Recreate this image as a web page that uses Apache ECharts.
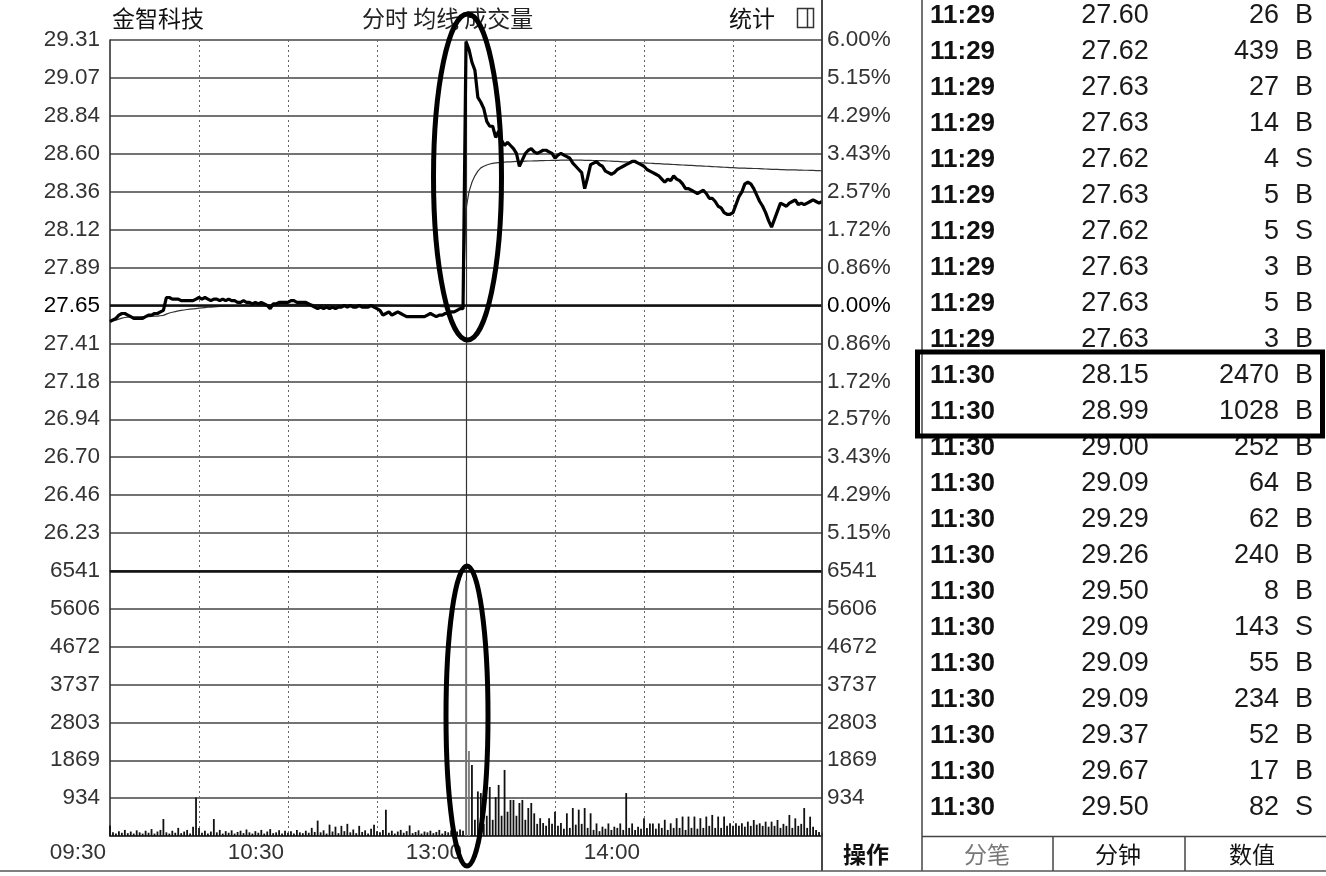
<!DOCTYPE html>
<html>
<head>
<meta charset="utf-8">
<script src="https://cdn.jsdelivr.net/npm/echarts@6/dist/echarts.min.js"></script>
<style>
html,body{margin:0;padding:0;background:#fff;}
#chart{width:1326px;height:876px;}
</style>
</head>
<body>
<div id="chart"></div>
<script>
// ---------------- DATA ----------------
const stockName = '金智科技';
const headerTabs = '分时 均线 成交量';
const statLabel = '统计';
const prevClose = 27.65;

const priceTicks = ['29.31','29.07','28.84','28.60','28.36','28.12','27.89','27.65','27.41','27.18','26.94','26.70','26.46','26.23'];
const pctTicks = ['6.00%','5.15%','4.29%','3.43%','2.57%','1.72%','0.86%','0.00%','0.86%','1.72%','2.57%','3.43%','4.29%','5.15%'];
const volTicks = ['6541','5606','4672','3737','2803','1869','934'];
const volMax = 6541;
const xTickIdx = [0, 60, 120, 180];
const xTickLabels = ['09:30','10:30','13:00','14:00'];

const priceData = [
27.55,27.56,27.57,27.59,27.60,27.60,27.59,27.58,27.57,27.57,
27.57,27.57,27.58,27.59,27.59,27.60,27.60,27.61,27.62,27.70,
27.70,27.69,27.69,27.69,27.68,27.68,27.68,27.68,27.68,27.69,
27.70,27.69,27.70,27.69,27.68,27.69,27.69,27.68,27.69,27.68,
27.69,27.68,27.68,27.67,27.67,27.68,27.67,27.67,27.66,27.67,
27.66,27.67,27.66,27.65,27.63,27.66,27.66,27.67,27.67,27.67,
27.67,27.68,27.68,27.67,27.67,27.67,27.67,27.66,27.65,27.64,
27.63,27.64,27.63,27.64,27.63,27.64,27.63,27.64,27.64,27.65,
27.64,27.65,27.64,27.64,27.65,27.64,27.64,27.64,27.65,27.64,
27.63,27.62,27.59,27.60,27.61,27.59,27.60,27.61,27.60,27.59,
27.58,27.58,27.58,27.58,27.58,27.58,27.58,27.59,27.60,27.59,
27.58,27.59,27.59,27.60,27.60,27.61,27.61,27.62,27.63,27.63,
29.30,29.25,29.17,29.12,28.95,28.92,28.88,28.80,28.77,28.77,
28.70,28.74,28.68,28.65,28.67,28.65,28.63,28.60,28.52,28.56,
28.60,28.62,28.63,28.61,28.60,28.61,28.62,28.62,28.61,28.60,
28.57,28.59,28.60,28.59,28.58,28.57,28.54,28.52,28.50,28.48,
28.38,28.45,28.53,28.54,28.55,28.53,28.52,28.49,28.48,28.47,
28.48,28.50,28.51,28.52,28.53,28.54,28.55,28.55,28.54,28.53,
28.52,28.50,28.49,28.48,28.47,28.46,28.44,28.42,28.44,28.43,
28.46,28.44,28.43,28.41,28.38,28.38,28.37,28.36,28.35,28.36,
28.37,28.35,28.32,28.32,28.30,28.27,28.26,28.23,28.22,28.22,
28.23,28.28,28.33,28.36,28.41,28.42,28.41,28.38,28.34,28.30,
28.27,28.23,28.18,28.14,28.19,28.24,28.29,28.28,28.27,28.29,
28.30,28.31,28.28,28.29,28.28,28.29,28.30,28.31,28.30,28.29,28.30
];

const avgData = [
27.550,27.554,27.559,27.565,27.571,27.575,27.577,27.578,27.579,27.579,
27.579,27.580,27.580,27.581,27.582,27.583,27.584,27.586,27.588,27.596,
27.603,27.608,27.612,27.616,27.619,27.622,27.625,27.627,27.629,27.631,
27.633,27.635,27.637,27.639,27.640,27.642,27.643,27.644,27.645,27.646,
27.647,27.648,27.649,27.650,27.651,27.652,27.652,27.653,27.653,27.654,
27.654,27.655,27.655,27.655,27.655,27.655,27.656,27.656,27.656,27.656,
27.657,27.657,27.657,27.657,27.657,27.657,27.657,27.657,27.657,27.656,
27.656,27.656,27.655,27.655,27.655,27.654,27.654,27.654,27.654,27.654,
27.654,27.654,27.654,27.654,27.654,27.654,27.654,27.654,27.654,27.653,
27.653,27.652,27.652,27.651,27.651,27.650,27.650,27.650,27.649,27.649,
27.648,27.648,27.647,27.647,27.646,27.646,27.645,27.645,27.645,27.644,
27.644,27.644,27.643,27.643,27.643,27.643,27.643,27.643,27.643,27.643,
28.250,28.360,28.420,28.460,28.490,28.510,28.520,28.528,28.534,28.538,
28.541,28.543,28.545,28.546,28.547,28.548,28.549,28.550,28.550,28.551,
28.552,28.553,28.553,28.554,28.554,28.555,28.555,28.556,28.556,28.557,
28.557,28.557,28.558,28.558,28.558,28.558,28.558,28.558,28.558,28.558,
28.557,28.557,28.557,28.556,28.556,28.555,28.555,28.554,28.553,28.552,
28.551,28.550,28.549,28.548,28.547,28.546,28.545,28.544,28.543,28.542,
28.541,28.540,28.539,28.538,28.537,28.536,28.535,28.534,28.533,28.532,
28.531,28.530,28.529,28.528,28.527,28.526,28.525,28.524,28.523,28.522,
28.521,28.520,28.519,28.518,28.517,28.516,28.515,28.514,28.513,28.512,
28.511,28.510,28.509,28.508,28.508,28.507,28.507,28.506,28.506,28.505,
28.504,28.503,28.502,28.501,28.500,28.500,28.499,28.499,28.498,28.498,
28.497,28.497,28.496,28.496,28.495,28.495,28.494,28.494,28.493,28.493,28.492
];

const volData = [
260,90,60,120,80,150,70,110,60,140,
90,60,130,80,170,60,110,150,420,90,
60,130,80,200,70,110,150,60,230,950,
200,80,130,60,110,420,90,150,60,120,
80,140,60,100,130,70,160,90,60,120,
80,150,60,110,170,70,90,140,60,130,
80,120,60,150,90,70,130,80,200,100,
380,90,140,60,280,110,230,70,250,120,
300,90,160,70,250,100,140,60,180,280,
120,90,150,650,80,130,60,110,150,80,
120,260,70,100,140,60,110,90,130,70,
100,150,60,120,90,140,70,110,160,130,
6300,2100,1750,400,1100,1060,300,500,1210,400,
960,1260,500,1630,600,890,890,500,815,890,
400,690,815,560,300,440,320,250,440,300,
600,250,320,180,560,200,690,280,650,300,
690,200,560,150,310,120,230,180,310,150,
230,200,310,150,1060,200,310,150,230,180,
440,200,310,310,180,310,200,400,150,313,
200,440,200,480,150,480,200,480,180,440,
200,480,250,520,200,480,200,480,250,313,
250,313,250,313,230,354,250,395,280,313,
250,354,230,354,250,395,200,300,250,520,
200,436,250,300,690,200,477,230,150,100,80
];

// trade ticks table
const tradeTimes = ['11:29','11:29','11:29','11:29','11:29','11:29','11:29','11:29','11:29','11:29',
  '11:30','11:30','11:30','11:30','11:30','11:30','11:30','11:30','11:30','11:30','11:30','11:30','11:30'];
const tradePrices = ['27.60','27.62','27.63','27.63','27.62','27.63','27.62','27.63','27.63','27.63',
  '28.15','28.99','29.00','29.09','29.29','29.26','29.50','29.09','29.09','29.09','29.37','29.67','29.50'];
const tradeVols = ['26','439','27','14','4','5','5','3','5','3',
  '2470','1028','252','64','62','240','8','143','55','234','52','17','82'];
const tradeSides = ['B','B','B','B','S','B','S','B','B','B',
  'B','B','B','B','B','B','B','S','B','B','B','B','S'];
const highlightRows = [10, 11];
const bottomTabs = ['操作','分笔','分钟','数值'];

// ---------------- CATEGORIES ----------------
function hm(t){const h=Math.floor(t/60),m=t%60;return (h<10?'0':'')+h+':'+(m<10?'0':'')+m;}
const cats = [];
for (let t = 570; t <= 690; t++) cats.push(hm(t));
for (let t = 781; t <= 900; t++) cats.push(hm(t));

// ---------------- AXES ----------------
const PMIN = +(prevClose * 0.94).toFixed(3);
const PMAX = +(prevClose * 1.06).toFixed(3);
const PSTEP = +((PMAX - PMIN) / 14).toFixed(4);
const VSTEP = volMax / 7;

const FONT = '"Liberation Sans", Arial, sans-serif';
const CJK = '"Noto Sans CJK SC", sans-serif';
const GL = 110, GR = 822, GT = 40, GM = 571, GB = 836;

function priceLabel(v){const i=Math.round((v-PMIN)/PSTEP);return priceTicks[14-i]||'';}
function pctLabel(v){const i=Math.round((v-PMIN)/PSTEP);return pctTicks[14-i]||'';}
function volLabel(v){const i=Math.round(v/VSTEP);return volTicks[7-i]||'';}
function isRef(v){return Math.round((v-PMIN)/PSTEP)===7;}

const splitX = {
  show: true,
  interval: function(idx){ return idx % 30 === 0 && idx !== 0 && idx !== 120 && idx !== 240; },
  lineStyle: {color: '#666', width: 1, type: [2, 3]}
};

const gridLineStyle = {color: '#444', width: 1.6};

// ---------------- GRAPHICS ----------------
const graphics = [];
function txt(x, y, text, font, fill, align) {
  graphics.push({type:'text', x:x, y:y, z:60, silent:true,
    style:{text:text, font:font, fill:fill||'#111', align:align||'left', verticalAlign:'middle'}});
}
function ln(x1,y1,x2,y2,color,w,z){
  graphics.push({type:'line', silent:true, z:z||55, shape:{x1:x1,y1:y1,x2:x2,y2:y2},
    style:{stroke:color||'#333', lineWidth:w||1.5}});
}
// header
txt(112, 18, stockName, '23px ' + CJK, '#111');
txt(362, 18, headerTabs, '23px ' + CJK, '#222');
txt(729, 18, statLabel, '23px ' + CJK, '#111');
graphics.push({type:'rect', silent:true, z:60, shape:{x:797.5,y:8.5,width:16,height:19},
  style:{fill:'#fff', stroke:'#333', lineWidth:1.5}});
ln(807.5, 8.5, 807.5, 27.5, '#333', 1.5, 61);
// panel borders
ln(822, 0, 822, 871, '#333', 1.8);
ln(922, 0, 922, 871, '#444', 1.5);
ln(922, 836.5, 1326, 836.5, '#444', 1.5);
ln(0, 871, 1326, 871, '#555', 1.5);
ln(1053, 836.5, 1053, 871, '#444', 1.5);
ln(1185, 836.5, 1185, 871, '#444', 1.5);
// trade table
const ROW0 = 16, ROWH = 36;
for (let i = 0; i < tradeTimes.length; i++) {
  const y = ROW0 + ROWH * i;
  txt(930, y, tradeTimes[i], 'bold 26px ' + FONT, '#111', 'left');
  txt(1115, y, tradePrices[i], '27px ' + FONT, '#1a1a1a', 'center');
  txt(1279, y, tradeVols[i], '27px ' + FONT, '#1a1a1a', 'right');
  txt(1304, y, tradeSides[i], '27px ' + FONT, '#1a1a1a', 'center');
}
// highlight box around rows
{
  const top = ROW0 + ROWH * highlightRows[0] - ROWH / 2 - 6;
  const bot = ROW0 + ROWH * highlightRows[highlightRows.length - 1] + ROWH / 2 + 6;
  graphics.push({type:'rect', silent:true, z:70,
    shape:{x:917.5, y:top, width:405, height:bot - top},
    style:{fill:'none', stroke:'#000', lineWidth:5}});
}
// bottom tabs
const tabCx = [866, 987, 1118, 1252];
const tabFont = ['bold 23px ' + CJK, '23px ' + CJK, '23px ' + CJK, '23px ' + CJK];
const tabColor = ['#111', '#777', '#111', '#111'];
bottomTabs.forEach(function(t, i){ txt(tabCx[i], 854, t, tabFont[i], tabColor[i], 'center'); });
// hand-drawn annotation ellipses
graphics.push({type:'ellipse', silent:true, z:80, shape:{cx:467.5, cy:177, rx:34, ry:163},
  style:{fill:'none', stroke:'#000', lineWidth:5}});
graphics.push({type:'ellipse', silent:true, z:80, shape:{cx:467, cy:716, rx:21, ry:150},
  style:{fill:'none', stroke:'#000', lineWidth:5}});

// ---------------- CHART ----------------
const chart = echarts.init(document.getElementById('chart'), null, {renderer:'canvas'});
const option = {
  animation: false,
  backgroundColor: '#fff',
  grid: [
    {left: GL, right: 1326 - GR, top: GT, height: GM - GT, containLabel: false},
    {left: GL, right: 1326 - GR, top: GM, height: GB - GM, containLabel: false}
  ],
  xAxis: [
    {type:'category', gridIndex:0, data:cats, boundaryGap:false,
      axisLine:{show:false}, axisTick:{show:false}, axisLabel:{show:false}, splitLine:splitX},
    {type:'category', gridIndex:1, data:cats, boundaryGap:false,
      axisLine:{show:true, lineStyle:{color:'#333', width:1.6}}, axisTick:{show:false},
      splitLine:splitX,
      axisLabel:{show:true, interval:function(idx){return xTickIdx.indexOf(idx) >= 0;},
        formatter:function(v, idx){const k = xTickIdx.indexOf(idx); return k >= 0 ? xTickLabels[k] : '';},
        align:'right', padding:[0,4,0,0], margin:5, color:'#333', fontSize:22.5, fontFamily:FONT}}
  ],
  yAxis: [
    {type:'value', gridIndex:0, min:PMIN, max:PMAX, interval:PSTEP, position:'left',
      axisLine:{show:true, lineStyle:{color:'#333', width:1.6}}, axisTick:{show:false},
      axisLabel:{showMinLabel:false, formatter:priceLabel, margin:10, fontSize:22.5, fontFamily:FONT,
        color:function(v){return isRef(v) ? '#000' : '#333';}},
      splitLine:{show:true, lineStyle:gridLineStyle}},
    {type:'value', gridIndex:0, min:PMIN, max:PMAX, interval:PSTEP, position:'right',
      axisLine:{show:false}, axisTick:{show:false},
      axisLabel:{showMinLabel:false, formatter:pctLabel, margin:5, fontSize:22.5, fontFamily:FONT,
        color:function(v){return isRef(v) ? '#000' : '#333';}},
      splitLine:{show:false}},
    {type:'value', gridIndex:1, min:0, max:volMax, interval:VSTEP, position:'left',
      axisLine:{show:true, lineStyle:{color:'#333', width:1.6}}, axisTick:{show:false},
      axisLabel:{showMinLabel:false, formatter:volLabel, margin:10, fontSize:22.5, fontFamily:FONT, color:'#333'},
      splitLine:{show:true, lineStyle:gridLineStyle}},
    {type:'value', gridIndex:1, min:0, max:volMax, interval:VSTEP, position:'right',
      axisLine:{show:false}, axisTick:{show:false},
      axisLabel:{showMinLabel:false, formatter:volLabel, margin:5, fontSize:22.5, fontFamily:FONT, color:'#333'},
      splitLine:{show:false}}
  ],
  series: [
    {name:'均线', type:'line', xAxisIndex:0, yAxisIndex:0, data:avgData, symbol:'none', silent:true,
      lineStyle:{color:'#333', width:1.2}, z:4},
    {name:'分时', type:'line', xAxisIndex:0, yAxisIndex:0, data:priceData, symbol:'none', silent:true,
      lineStyle:{color:'#000', width:3.2}, z:5,
      markLine:{symbol:['none','none'], silent:true, label:{show:false}, animation:false,
        data:[
          {xAxis:cats[120], lineStyle:{color:'#333', width:1.2, type:'solid'}},
          {yAxis:prevClose, lineStyle:{color:'#111', width:2.6, type:'solid'}}
        ]}},
    {name:'成交量', type:'bar', xAxisIndex:1, yAxisIndex:2, data:volData, barWidth:1.8, silent:true,
      itemStyle:{color:function(p){return (p.dataIndex === 120 || p.dataIndex === 121) ? '#7a7a7a' : '#111';}},
      z:5,
      markLine:{symbol:['none','none'], silent:true, label:{show:false}, animation:false,
        data:[
          {xAxis:cats[120], lineStyle:{color:'#333', width:1.2, type:'solid'}},
          {yAxis:volMax, lineStyle:{color:'#111', width:2.6, type:'solid'}}
        ]}}
  ],
  graphic: graphics
};
chart.setOption(option);
</script>
</body>
</html>
